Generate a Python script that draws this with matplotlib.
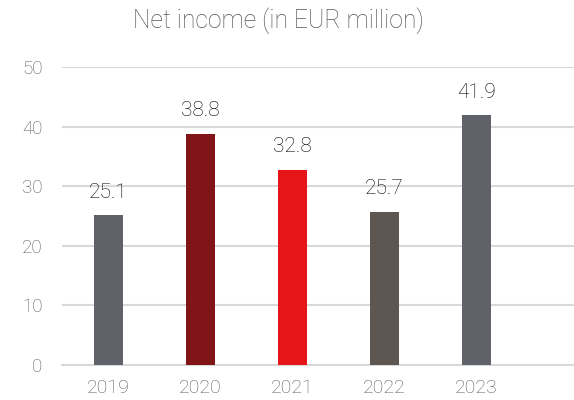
import matplotlib as mpl
mpl.use('Agg')
import matplotlib.pyplot as plt

# data
years = ['2019', '2020', '2021', '2022', '2023']
net_income = [25.1, 38.8, 32.8, 25.7, 41.9]
bar_colors = ['#5f6369', '#801416', '#e61518', '#5e5751', '#5f6369']
yticks = [0, 10, 20, 30, 40, 50]

mpl.rcParams.update({'font.family': 'Roboto', 'font.weight': 'light'})

fig = plt.figure(figsize=(5.74, 4.0), dpi=100)
ax = fig.add_axes([62 / 574, 35 / 400, 1 - 62 / 574, 298 / 400])

x = range(len(years))
ax.bar(x, net_income, width=0.315, color=bar_colors, zorder=3)

# value labels above the bars
for xi, v in zip(x, net_income):
    ax.annotate(f'{v:.1f}', (xi, v), xytext=(0, 12.5), textcoords='offset points',
                ha='center', va='baseline', fontsize=15, color='#000000',
                fontweight='light', annotation_clip=False)

ax.set_xlim(-0.505, 5.06)
ax.set_ylim(0, 50)
ax.set_yticks(yticks)
ax.set_xticks(list(x))
ax.set_xticklabels(years)
ax.yaxis.grid(True, color='#d9d9d9', linewidth=1.5, zorder=0)
ax.set_axisbelow(True)
for s in ['top', 'right', 'left']:
    ax.spines[s].set_visible(False)
ax.spines['bottom'].set_color('#d9d9d9')
ax.spines['bottom'].set_linewidth(1.5)
ax.tick_params(axis='both', length=0, colors='#5c5c5c')
ax.tick_params(axis='x', pad=10, labelsize=14)
ax.tick_params(axis='y', pad=14, labelsize=13.5)

fig.text(278 / 574, 1 - 21 / 400, 'Net income (in EUR million)', ha='center',
         va='center', fontsize=17.8, color='#555555', fontweight='light')

fig.savefig('out.png', dpi=100)
